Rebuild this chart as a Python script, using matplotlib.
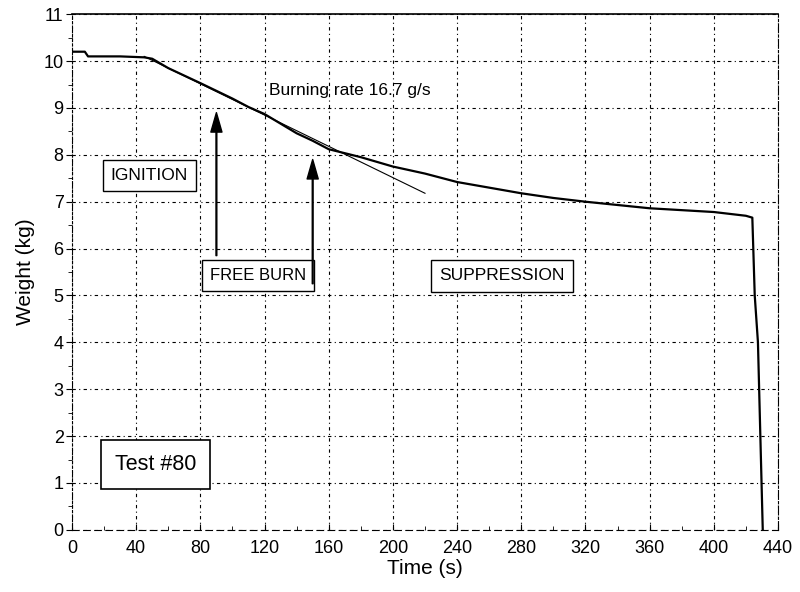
import numpy as np
from matplotlib import pyplot as plt
from matplotlib.ticker import MultipleLocator

# weight loss curve
time_s = [0, 8, 10, 30, 45, 50, 60, 80, 100, 110, 120, 140, 150, 160, 180,
          200, 220, 240, 260, 280, 300, 320, 340, 360, 380, 400, 420, 424,
          425.5, 427.5, 430.5]
weight_kg = [10.2, 10.2, 10.1, 10.1, 10.08, 10.05, 9.85, 9.53, 9.2, 9.02, 8.87,
             8.46, 8.3, 8.12, 7.95, 7.75, 7.6, 7.42, 7.3, 7.18, 7.08, 7.0,
             6.93, 6.86, 6.82, 6.78, 6.7, 6.66, 5.0, 4.0, 0.0]

# linear fit, burning rate 16.7 g/s
fit_t = [45, 220]
fit_w = [10.1, 7.18]

x_ticks = [0, 40, 80, 120, 160, 200, 240, 280, 320, 360, 400, 440]
y_ticks = list(range(0, 12))

plt.rcParams['font.family'] = ['Liberation Sans', 'DejaVu Sans']

fig = plt.figure(figsize=(8, 5.92), dpi=100)
ax = fig.add_axes([0.09, 0.105, 0.8825, 0.871])

ax.plot(time_s, weight_kg, color='black', linewidth=1.6)
ax.plot(fit_t, fit_w, color='black', linewidth=0.8)

ax.set_xlim(0, 440)
ax.set_ylim(0, 11)
ax.set_xticks(x_ticks)
ax.set_yticks(y_ticks)
ax.xaxis.set_minor_locator(MultipleLocator(20))
ax.yaxis.set_minor_locator(MultipleLocator(0.5))
ax.tick_params(axis='x', which='major', direction='in', length=4,
               labelsize=13, pad=7)
ax.tick_params(axis='x', which='minor', direction='in', length=3)
ax.tick_params(axis='y', which='major', direction='out', length=4,
               labelsize=13, pad=2)
ax.tick_params(axis='y', which='minor', direction='out', length=3)

ax.grid(True, which='major', color='black', linewidth=0.8,
        linestyle=(0, (3, 3, 1, 3)))

ax.spines['top'].set_linewidth(1.2)
ax.spines['right'].set_linestyle((0, (8, 2, 2, 2)))
ax.spines['bottom'].set_linestyle((0, (6, 4)))
ax.spines['left'].set_linestyle((0, (2, 2)))
for s in ax.spines.values():
    s.set_color('black')

ax.set_xlabel('Time (s)', fontsize=15, labelpad=2)
ax.set_ylabel('Weight (kg)', fontsize=15, labelpad=6)

box = dict(boxstyle='square,pad=0.48', facecolor='white', edgecolor='black', linewidth=1.0)
ax.text(48.3, 7.56, 'IGNITION', fontsize=12.5, bbox=box, va='center', ha='center')
ax.text(115.9, 5.43, 'FREE BURN', fontsize=12, bbox=box, va='center', ha='center')
ax.text(268, 5.42, 'SUPPRESSION', fontsize=12.5, bbox=box, va='center', ha='center')
ax.text(52, 1.39, 'Test #80', fontsize=15.5,
        bbox=dict(boxstyle='square,pad=0.65', facecolor='white', edgecolor='black', linewidth=1.2),
        va='center', ha='center')
ax.text(123, 9.38, 'Burning rate 16.7 g/s', fontsize=12.5, va='center', ha='left')

arrow = dict(width=0.6, headwidth=8, headlength=14, color='black')
ax.annotate('', xy=(90, 8.9), xytext=(90, 5.85), arrowprops=arrow)
ax.annotate('', xy=(150, 7.9), xytext=(150, 5.25), arrowprops=arrow)

fig.savefig('out.png', dpi=100)
